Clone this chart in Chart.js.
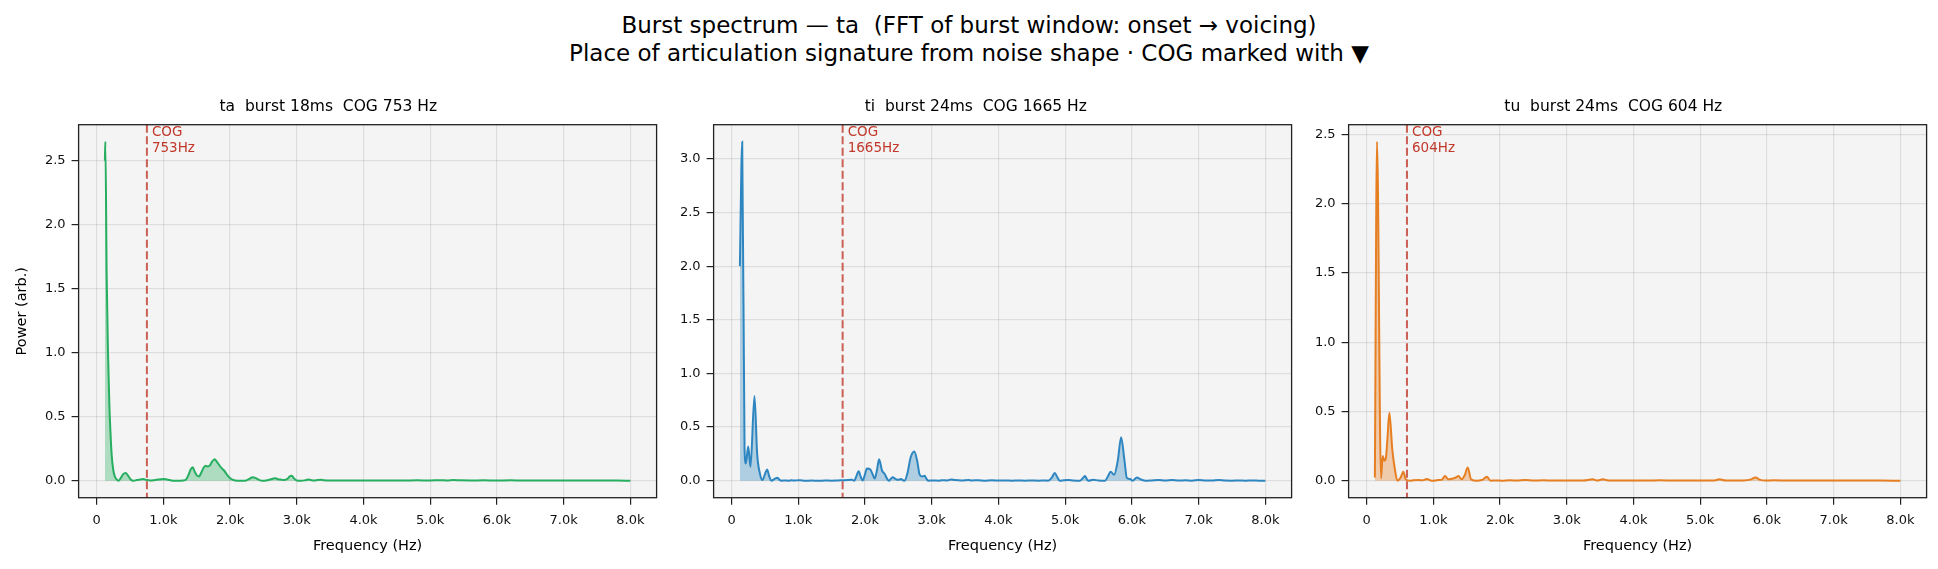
<!DOCTYPE html>
<html>
<head>
<meta charset="utf-8">
<title>Burst spectrum</title>
<script src="https://cdn.jsdelivr.net/npm/chart.js@4.4.1/dist/chart.umd.min.js"></script>
<style>
    body { margin: 0; background: #fff; width: 1938px; height: 569px; position: relative; overflow: hidden; font-family: "DejaVu Sans", sans-serif; }
    #suptitle { position: absolute; left: 0; top: 12px; width: 1938px; text-align: center; font-size: 23px; line-height: 27.6px; color: #000; }
    .panel { position: absolute; top: 80px; height: 489px; }
</style>
</head>
<body>
<div id="suptitle">Burst spectrum — ta&nbsp;&nbsp;(FFT of burst window: onset → voicing)<br>Place of articulation signature from noise shape · COG marked with ▼</div>
<div class="panel" style="left:0;width:680px"><canvas id="taChart"></canvas></div>
<div class="panel" style="left:660px;width:650px"><canvas id="tiChart"></canvas></div>
<div class="panel" style="left:1300px;width:638px"><canvas id="tuChart"></canvas></div>

<script>
// ---- data ----
const xTicks = [0, 1000, 2000, 3000, 4000, 5000, 6000, 7000, 8000];
const yTicksTa = [0, 0.5, 1.0, 1.5, 2.0, 2.5];
const yTicksTi = [0, 0.5, 1.0, 1.5, 2.0, 2.5, 3.0];
const yTicksTu = [0, 0.5, 1.0, 1.5, 2.0, 2.5];

const panelTitles = ['ta  burst 18ms  COG 753 Hz', 'ti  burst 24ms  COG 1665 Hz', 'tu  burst 24ms  COG 604 Hz'];
const cogHz = [753, 1665, 604];

const taFreq = [123, 130, 150, 170, 190, 205, 225, 250, 275, 300, 325, 360, 395, 435, 470, 510, 550, 600, 650, 700,
    750, 800, 850, 900, 960, 1015, 1070, 1120, 1170, 1230, 1290, 1340, 1380, 1410, 1440, 1470, 1505, 1535, 1565, 1600,
    1633, 1665, 1695, 1730, 1769, 1800, 1835, 1870, 1910, 1950, 1990, 2035, 2080, 2140, 2190, 2240, 2290, 2337, 2385, 2430,
    2487, 2540, 2590, 2640, 2678, 2720, 2770, 2814, 2860, 2895, 2925, 2955, 3000, 3060, 3120, 3170, 3210, 3260, 3310, 3360,
    3410, 3500, 3600, 3700, 3800, 3900, 4000, 4200, 4400, 4600, 4800, 5000, 5150, 5250, 5350, 5450, 5600, 5800, 6000, 6200,
    6400, 6600, 6800, 7000, 7200, 7400, 7600, 7800, 8000];
const taPower = [2.5, 2.65, 1.6, 1.0, 0.6, 0.40, 0.20, 0.08, 0.03, 0.01, 0.0, 0.02, 0.05, 0.06, 0.04, 0.01, 0.0, 0.005, 0.01, 0.013,
    0.006, 0.002, 0.004, 0.008, 0.012, 0.013, 0.008, 0.002, 0.0, 0.0, 0.002, 0.01, 0.05, 0.09, 0.106, 0.07, 0.04, 0.034, 0.06, 0.1,
    0.117, 0.112, 0.118, 0.15, 0.168, 0.15, 0.124, 0.1, 0.08, 0.05, 0.025, 0.008, 0.002, 0.0, 0.0, 0.002, 0.015, 0.028, 0.02, 0.008,
    0.0, 0.002, 0.008, 0.016, 0.02, 0.012, 0.008, 0.005, 0.015, 0.035, 0.04, 0.02, 0.002, 0.0, 0.003, 0.01, 0.006, 0.002, 0.006, 0.008,
    0.003, 0.001, 0.002, 0.001, 0.002, 0.001, 0.002, 0.001, 0.002, 0.001, 0.003, 0.002, 0.004, 0.002, 0.006, 0.003, 0.002, 0.003, 0.002, 0.003,
    0.001, 0.002, 0.001, 0.002, 0.001, 0.002, 0.001, 0.001, 0.0];

const tiFreq = [125, 160, 195, 215, 250, 284, 344, 384, 424, 464, 500, 534, 565, 599, 640, 689, 720, 749, 800, 850,
    900, 950, 1000, 1050, 1100, 1200, 1300, 1400, 1500, 1600, 1700, 1760, 1804, 1839, 1870, 1905, 1935, 1965, 2000, 2030,
    2080, 2115, 2146, 2180, 2211, 2256, 2296, 2330, 2357, 2390, 2417, 2450, 2482, 2515, 2543, 2570, 2593, 2640, 2683, 2739,
    2784, 2819, 2859, 2894, 2920, 2945, 3000, 3035, 3100, 3150, 3236, 3290, 3350, 3450, 3550, 3600, 3700, 3800, 3900, 4000,
    4100, 4200, 4300, 4400, 4500, 4600, 4700, 4744, 4800, 4844, 4885, 4920, 4980, 5045, 5120, 5221, 5260, 5296, 5325, 5347,
    5422, 5500, 5598, 5640, 5683, 5734, 5789, 5839, 5889, 5925, 5975, 6010, 6075, 6135, 6211, 6300, 6402, 6500, 6600, 6700,
    6800, 6900, 7000, 7100, 7200, 7300, 7400, 7500, 7600, 7700, 7800, 7900, 8000];
const tiPower = [2.0, 3.16, 0.3, 0.16, 0.32, 0.13, 0.79, 0.25, 0.07, 0.006, 0.06, 0.105, 0.04, 0.0, 0.015, 0.028, 0.008, 0.0, 0.003, 0.0,
    0.004, 0.002, 0.005, 0.003, 0.0, 0.002, 0.0, 0.002, 0.001, 0.003, 0.005, 0.008, 0.01, 0.0, 0.04, 0.089, 0.04, 0.003, 0.06, 0.114,
    0.104, 0.06, 0.02, 0.1, 0.2, 0.095, 0.063, 0.02, 0.0, 0.02, 0.032, 0.02, 0.01, 0.012, 0.016, 0.005, 0.0, 0.08, 0.215, 0.272,
    0.18, 0.057, 0.04, 0.047, 0.02, 0.0, 0.003, 0.003, 0.0, 0.004, 0.003, 0.012, 0.006, 0.003, 0.008, 0.002, 0.005, 0.001, 0.004, 0.002,
    0.003, 0.001, 0.002, 0.001, 0.002, 0.001, 0.003, 0.0, 0.03, 0.072, 0.03, 0.0, 0.004, 0.006, 0.002, 0.0, 0.02, 0.044, 0.015, 0.0,
    0.009, 0.003, 0.0, 0.04, 0.084, 0.056, 0.187, 0.406, 0.187, 0.025, 0.016, 0.0, 0.031, 0.012, 0.0, 0.003, 0.006, 0.002, 0.006, 0.002,
    0.004, 0.001, 0.008, 0.003, 0.002, 0.008, 0.002, 0.001, 0.002, 0.001, 0.002, 0.001, 0.0];

const tuFreq = [123, 155, 215, 240, 265, 290, 315, 340, 385, 425, 460, 490, 515, 550, 585, 650, 700, 775, 840, 900,
    975, 1075, 1130, 1175, 1225, 1260, 1300, 1340, 1375, 1425, 1470, 1515, 1565, 1650, 1725, 1760, 1800, 1860, 1940, 2025,
    2150, 2250, 2375, 2500, 2650, 2800, 2950, 3100, 3250, 3390, 3450, 3540, 3620, 3800, 4000, 4200, 4400, 4600, 4800, 5000,
    5200, 5290, 5380, 5500, 5650, 5750, 5830, 5900, 5980, 6100, 6300, 6500, 6700, 6900, 7100, 7300, 7500, 7700, 8000];
const tuPower = [0.024, 2.447, 0.017, 0.178, 0.144, 0.173, 0.33, 0.49, 0.22, 0.077, 0.0, 0.01, 0.029, 0.065, 0.01, 0.0, 0.003, 0.005, 0.003, 0.012,
    0.0, 0.005, 0.008, 0.034, 0.01, 0.012, 0.017, 0.025, 0.034, 0.01, 0.04, 0.096, 0.01, 0.0, 0.005, 0.015, 0.029, 0.0, 0.002, 0.0,
    0.003, 0.002, 0.005, 0.001, 0.003, 0.001, 0.002, 0.001, 0.002, 0.01, 0.002, 0.01, 0.002, 0.001, 0.002, 0.001, 0.004, 0.001, 0.002, 0.001,
    0.002, 0.01, 0.002, 0.001, 0.002, 0.008, 0.024, 0.006, 0.002, 0.003, 0.002, 0.001, 0.002, 0.001, 0.002, 0.001, 0.001, 0.001, 0.0];

const FONT = '"DejaVu Sans", sans-serif';

// background, frame and COG marker for each panel
const panelDeco = {
    id: 'panelDeco',
    beforeDraw(chart) {
        const a = chart.chartArea;
        const ctx = chart.ctx;
        ctx.save();
        ctx.fillStyle = '#f4f4f4';
        ctx.fillRect(a.left, a.top, a.right - a.left, a.bottom - a.top);
        ctx.restore();
    },
    afterDatasetsDraw(chart, args, opts) {
        const a = chart.chartArea;
        const ctx = chart.ctx;
        const x = chart.scales.x.getPixelForValue(opts.cog);
        ctx.save();
        ctx.strokeStyle = 'rgba(192, 57, 43, 0.8)';
        ctx.lineWidth = 2;
        ctx.setLineDash([8, 3.5]);
        ctx.beginPath();
        ctx.moveTo(x, a.top);
        ctx.lineTo(x, a.bottom);
        ctx.stroke();
        ctx.setLineDash([]);
        ctx.fillStyle = '#c0392b';
        ctx.font = '13.5px ' + FONT;
        ctx.textAlign = 'left';
        ctx.textBaseline = 'middle';
        ctx.fillText('COG', x + 5, a.top + 7.5);
        ctx.fillText(opts.cog + 'Hz', x + 5, a.top + 24);
        ctx.restore();
    },
    afterDraw(chart) {
        const a = chart.chartArea;
        const ctx = chart.ctx;
        ctx.save();
        ctx.strokeStyle = '#222';
        ctx.lineWidth = 1.3;
        ctx.strokeRect(a.left, a.top, a.right - a.left, a.bottom - a.top);
        ctx.restore();
    }
};

function makePanel(id, title, freq, power, yTicks, color, fill, cog, yAxisWidth, padRight, yTitle) {
    const pts = freq.map((f, i) => ({ x: f, y: power[i] }));
    // matplotlib-style 5% margins
    const f0 = freq[0], f1 = freq[freq.length - 1];
    const pMax = Math.max(...power);

    new Chart(document.getElementById(id), {
        type: 'line',
        data: {
            datasets: [{
                data: pts,
                borderColor: color,
                backgroundColor: fill,
                borderWidth: 2,
                pointRadius: 0,
                fill: 'origin',
                cubicInterpolationMode: 'monotone'
            }]
        },
        options: {
            responsive: true,
            maintainAspectRatio: false,
            animation: false,
            layout: { padding: { left: 0, right: padRight, top: 0, bottom: 0 } },
            plugins: {
                legend: { display: false },
                tooltip: { enabled: false },
                title: {
                    display: true,
                    text: title,
                    color: '#000',
                    font: { family: FONT, size: 15.5, weight: 'normal' },
                    padding: { top: 17.5, bottom: 8.6 }
                },
                panelDeco: { cog: cog }
            },
            scales: {
                x: {
                    type: 'linear',
                    min: f0 - 0.05 * (f1 - f0),
                    max: f1 + 0.05 * (f1 - f0),
                    afterBuildTicks: axis => { axis.ticks = xTicks.map(v => ({ value: v })); },
                    afterFit: axis => { axis.height = 71.3; },
                    ticks: {
                        color: '#111',
                        font: { family: FONT, size: 13 },
                        padding: 8,
                        maxRotation: 0,
                        callback: v => v === 0 ? '0' : (v / 1000).toFixed(1) + 'k'
                    },
                    grid: { color: 'rgba(0,0,0,0.09)', lineWidth: 1.2, tickLength: 7, tickColor: '#222', tickWidth: 1.2 },
                    border: { display: false },
                    title: {
                        display: true,
                        text: 'Frequency (Hz)',
                        color: '#000',
                        font: { family: FONT, size: 14.5 },
                        padding: { top: 0, bottom: 14.5 }
                    }
                },
                y: {
                    min: -0.05 * pMax,
                    max: pMax * 1.05,
                    afterBuildTicks: axis => { axis.ticks = yTicks.map(v => ({ value: v })); },
                    afterFit: axis => { axis.width = yAxisWidth; },
                    ticks: {
                        color: '#111',
                        font: { family: FONT, size: 13 },
                        padding: 6,
                        callback: v => v.toFixed(1)
                    },
                    grid: { color: 'rgba(0,0,0,0.09)', lineWidth: 1.2, tickLength: 7, tickColor: '#222', tickWidth: 1.2 },
                    border: { display: false },
                    title: {
                        display: !!yTitle,
                        text: yTitle || '',
                        color: '#000',
                        font: { family: FONT, size: 14.5 },
                        padding: { top: 13.3, bottom: 0 }
                    }
                }
            }
        },
        plugins: [panelDeco]
    });
}

makePanel('taChart', panelTitles[0], taFreq, taPower, yTicksTa, '#27ae60', 'rgba(39,174,96,0.35)', cogHz[0], 78.6, 23.4, 'Power (arb.)');
makePanel('tiChart', panelTitles[1], tiFreq, tiPower, yTicksTi, '#2e86c1', 'rgba(46,134,193,0.35)', cogHz[1], 53.6, 18.4, null);
makePanel('tuChart', panelTitles[2], tuFreq, tuPower, yTicksTu, '#e67e22', 'rgba(230,126,34,0.35)', cogHz[2], 48.6, 11.4, null);
</script>
</body>
</html>
